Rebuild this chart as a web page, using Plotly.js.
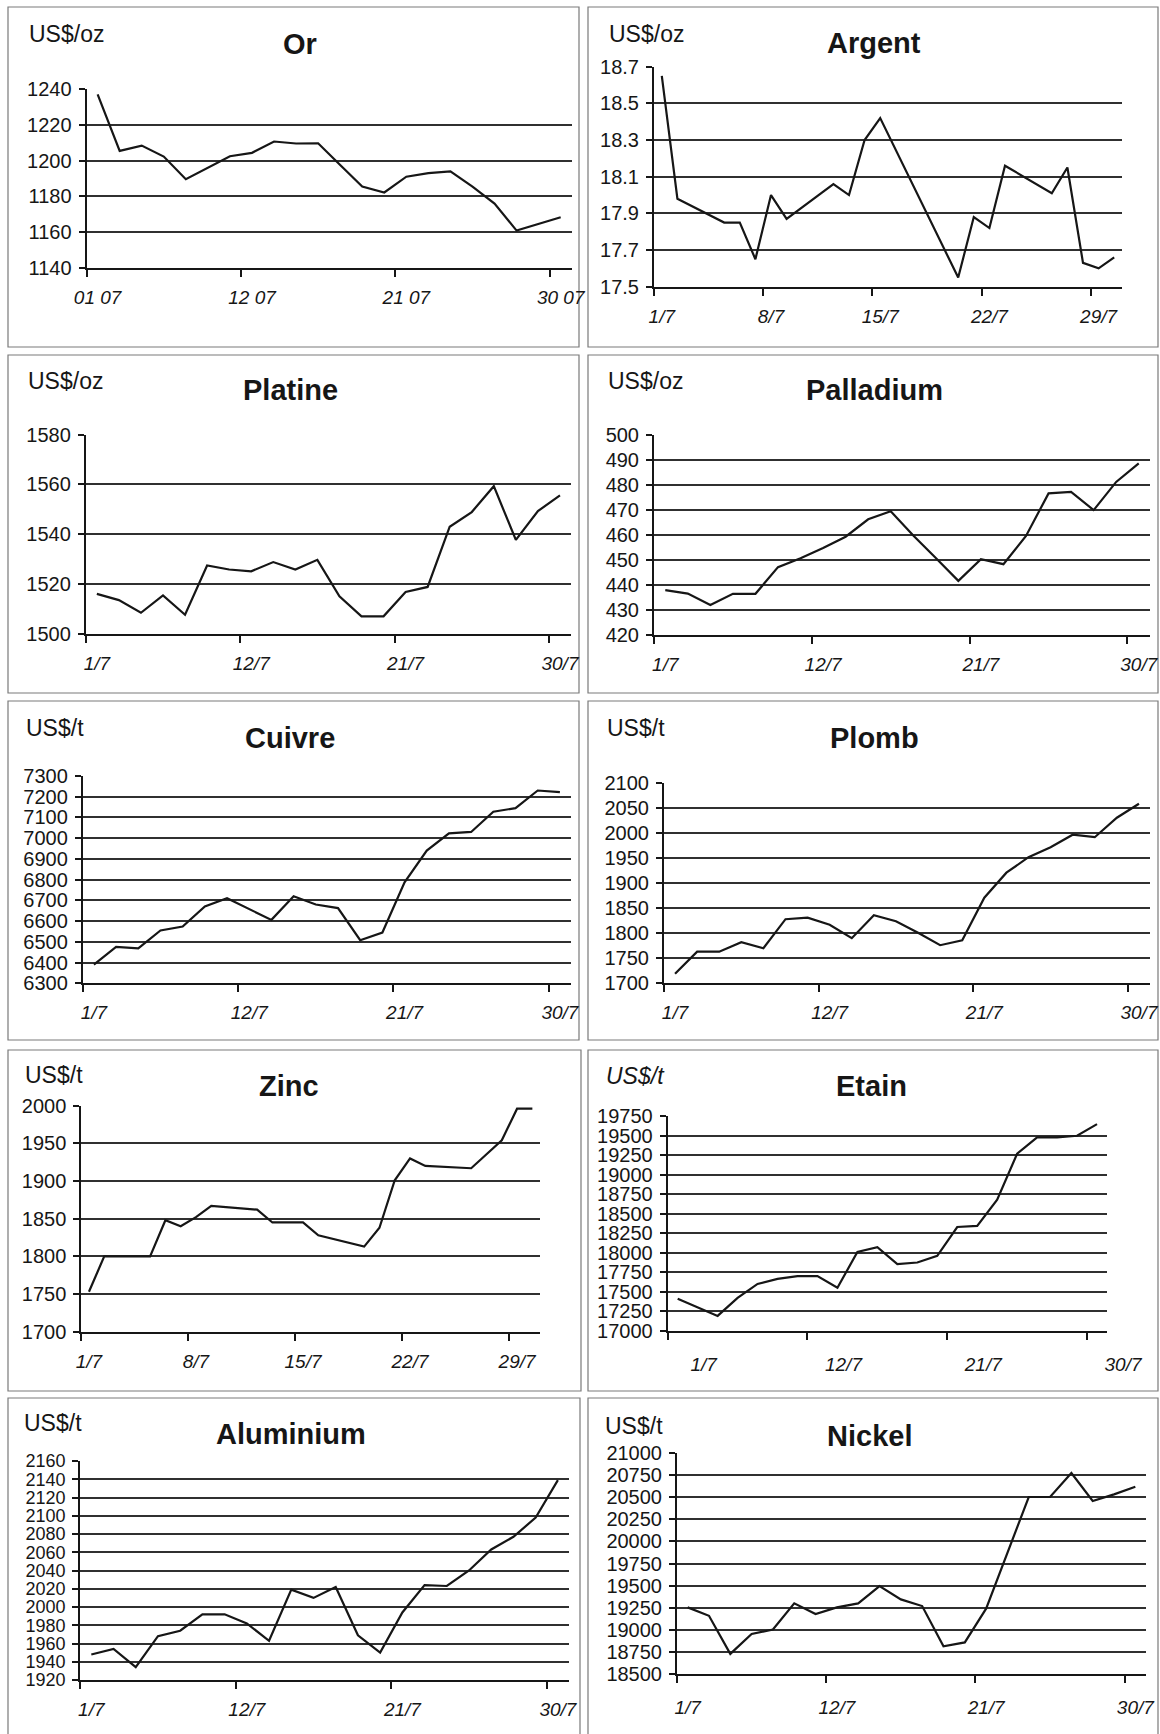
<!DOCTYPE html>
<html>
<head>
<meta charset="utf-8">
<script src="https://cdn.plot.ly/plotly-3.0.1.min.js"></script>
<style>
  html, body { margin: 0; padding: 0; background: #ffffff; }
  #chart { width: 1160px; height: 1734px; }
</style>
</head>
<body>
<div id="chart"></div>
<script>
// ---- Metals prices, July 2010 ----

// Trading days of the month (day of July)
const tradingDays = [1, 2, 5, 6, 7, 8, 9, 12, 13, 14, 15, 16, 19, 20, 21, 22, 23, 26, 27, 28, 29, 30];

// Axis labels
const dailyLabelDays = [1, 12, 21, 30];
const orTickText = ['01 07', '12 07', '21 07', '30 07'];
const dailyTickText = ['1/7', '12/7', '21/7', '30/7'];
const weeklyLabelDays = [1, 8, 15, 22, 29];
const weeklyTickText = ['1/7', '8/7', '15/7', '22/7', '29/7'];

// Or (US$/oz), one value per trading day
const orValues = [1236.8, 1205.4, 1208.3, 1202.2, 1189.6, 1196.2, 1202.4, 1204.3, 1210.6, 1209.5, 1209.6,
                  1197.5, 1185.5, 1182.2, 1191.0, 1193.0, 1194.0, 1185.5, 1176.0, 1161.0, 1164.7, 1168.4];
const orTicks = [1140, 1160, 1180, 1200, 1220, 1240];

// Argent (US$/oz), quoted days only
const argentDays = [1, 2, 5, 6, 7, 8, 9, 12, 13, 14, 15, 20, 21, 22, 23, 26, 27, 28, 29, 30];
const argentValues = [18.65, 17.98, 17.85, 17.85, 17.65, 18.00, 17.87, 18.06, 18.00, 18.30, 18.42,
                      17.55, 17.88, 17.82, 18.16, 18.01, 18.15, 17.63, 17.60, 17.66];
const argentTicks = [17.5, 17.7, 17.9, 18.1, 18.3, 18.5, 18.7];

// Platine (US$/oz)
const platineValues = [1516.0, 1513.5, 1508.4, 1515.4, 1507.6, 1527.4, 1525.8, 1525.1, 1528.8, 1525.8, 1529.7,
                       1515.0, 1507.0, 1507.0, 1516.8, 1518.8, 1543.0, 1548.9, 1559.3, 1537.7, 1549.3, 1555.6];
const platineTicks = [1500, 1520, 1540, 1560, 1580];

// Palladium (US$/oz)
const palladiumValues = [437.9, 436.5, 431.9, 436.4, 436.4, 447.1, 450.7, 454.8, 459.3, 466.3, 469.5,
                         459.8, 450.8, 441.6, 450.3, 448.3, 459.6, 476.7, 477.3, 470.0, 481.3, 488.7];
const palladiumTicks = [420, 430, 440, 450, 460, 470, 480, 490, 500];

// Cuivre (US$/t)
const cuivreValues = [6390, 6476, 6468, 6555, 6574, 6671, 6710, 6658, 6606, 6720, 6680,
                      6663, 6508, 6545, 6787, 6940, 7023, 7030, 7128, 7145, 7230, 7222];
const cuivreTicks = [6300, 6400, 6500, 6600, 6700, 6800, 6900, 7000, 7100, 7200, 7300];

// Plomb (US$/t)
const plombValues = [1718, 1762, 1762, 1781, 1769, 1827, 1830, 1816, 1789, 1835, 1823,
                     1800, 1775, 1785, 1870, 1920, 1951, 1971, 1996, 1991, 2030, 2058];
const plombTicks = [1700, 1750, 1800, 1850, 1900, 1950, 2000, 2050, 2100];

// Zinc (US$/t), by calendar day
const zincDays = [1, 2, 5, 6, 7, 8, 9, 12, 13, 14, 15, 16, 19, 20, 21, 22, 23, 26, 27, 28, 29, 30];
const zincValues = [1753, 1800, 1800, 1848, 1840, 1852, 1867, 1862, 1845, 1845, 1845,
                    1828, 1813, 1838, 1901, 1930, 1920, 1917, 1936, 1954, 1996, 1996];
const zincTicks = [1700, 1750, 1800, 1850, 1900, 1950, 2000];

// Etain (US$/t)
const etainValues = [17410, 17305, 17190, 17420, 17600, 17665, 17700, 17700, 17550, 18010, 18070,
                     17855, 17875, 17960, 18330, 18345, 18680, 19270, 19480, 19480, 19500, 19650];
const etainTicks = [17000, 17250, 17500, 17750, 18000, 18250, 18500, 18750, 19000, 19250, 19500, 19750];

// Aluminium (US$/t)
const aluminiumValues = [1948, 1954, 1934, 1968, 1974, 1992, 1992, 1982, 1963, 2019, 2010,
                         2022, 1969, 1950, 1994, 2024, 2023, 2040, 2063, 2077, 2098, 2139];
const aluminiumTicks = [1920, 1940, 1960, 1980, 2000, 2020, 2040, 2060, 2080, 2100, 2120, 2140, 2160];

// Nickel (US$/t)
const nickelValues = [19255, 19160, 18730, 18955, 19005, 19300, 19180, 19255, 19300, 19495, 19345,
                      19270, 18815, 18860, 19240, 19880, 20500, 20500, 20770, 20455, 20530, 20615];
const nickelTicks = [18500, 18750, 19000, 19250, 19500, 19750, 20000, 20250, 20500, 20750, 21000];

// ---- Page geometry (pixels) ----
const W = 1160, H = 1734;
const FONT = 'Liberation Sans, Arial, Helvetica, sans-serif';
const INK = '#161616';

// plot: [left, right, top, bottom]; frame: [left, right, top, bottom]
const panels = [
  { title: 'Or', unit: 'US$/oz', kind: 'daily', values: orValues, ticks: orTicks, labels: orTickText,
    plot: [86.6, 571.7, 88.7, 268.3], frame: [8, 579, 7, 347], titleAt: [300, 44], unitAt: [27, 34] },
  { title: 'Argent', unit: 'US$/oz', kind: 'weekly', days: argentDays, values: argentValues, ticks: argentTicks, decimals: 1,
    plot: [654, 1122, 66.7, 286.7], frame: [588, 1158, 7, 347], titleAt: [874, 43], unitAt: [607, 34] },
  { title: 'Platine', unit: 'US$/oz', kind: 'daily', values: platineValues, ticks: platineTicks, labels: dailyTickText,
    plot: [85.8, 571, 434.7, 633.7], frame: [8, 579, 355, 693], titleAt: [291, 390], unitAt: [26, 381] },
  { title: 'Palladium', unit: 'US$/oz', kind: 'daily', values: palladiumValues, ticks: palladiumTicks, labels: dailyTickText,
    plot: [654, 1150, 435.3, 634.7], frame: [588, 1158, 355, 693], titleAt: [874, 390], unitAt: [606, 381] },
  { title: 'Cuivre', unit: 'US$/t', kind: 'daily', values: cuivreValues, ticks: cuivreTicks, labels: dailyTickText,
    plot: [82.8, 571, 776, 983.3], frame: [8, 579, 701, 1040], titleAt: [290, 738], unitAt: [24, 728] },
  { title: 'Plomb', unit: 'US$/t', kind: 'daily', values: plombValues, ticks: plombTicks, labels: dailyTickText,
    plot: [664, 1150, 782.7, 982.7], frame: [588, 1158, 701, 1040], titleAt: [874, 738], unitAt: [605, 728] },
  { title: 'Zinc', unit: 'US$/t', kind: 'weekly', days: zincDays, values: zincValues, ticks: zincTicks,
    plot: [81.3, 540, 1105.7, 1331.7], frame: [8, 581, 1050, 1391], titleAt: [289, 1086], unitAt: [23, 1075] },
  { title: 'Etain', unit: 'US$/t', unitItalic: true, kind: 'daily', values: etainValues, ticks: etainTicks, labels: dailyTickText,
    plot: [667.7, 1107, 1116.3, 1330.7], frame: [588, 1158, 1050, 1391], titleAt: [872, 1086], unitAt: [604, 1076],
    labelShift: 26, labelDrop: 4 },
  { title: 'Aluminium', unit: 'US$/t', kind: 'daily', values: aluminiumValues, ticks: aluminiumTicks, labels: dailyTickText,
    plot: [80.2, 569, 1461, 1680], frame: [8, 580, 1398, 1760], titleAt: [291, 1434], unitAt: [22, 1423],
    tickSize: 18 },
  { title: 'Nickel', unit: 'US$/t', kind: 'daily', values: nickelValues, ticks: nickelTicks, labels: dailyTickText,
    plot: [677, 1146, 1452.7, 1674.3], frame: [588, 1158, 1398, 1760], titleAt: [869, 1436], unitAt: [603, 1426],
    labelDrop: 4 }
];

const px = v => v / W;
const py = v => 1 - v / H;

const traces = [];
const layout = {
  width: W, height: H,
  margin: { l: 0, r: 0, t: 0, b: 0 },
  paper_bgcolor: '#ffffff', plot_bgcolor: '#ffffff',
  showlegend: false,
  font: { family: FONT, color: INK },
  shapes: [], annotations: []
};

panels.forEach((p, i) => {
  const n = i + 1;
  const xa = 'xaxis' + (n === 1 ? '' : n);
  const ya = 'yaxis' + (n === 1 ? '' : n);
  const xr = 'x' + (n === 1 ? '' : n);
  const yr = 'y' + (n === 1 ? '' : n);

  let xs, range, labelVals, labelText;
  if (p.kind === 'daily') {
    // one category per trading day, marks at the middle of each category
    xs = p.values.map((v, k) => k);
    range = [-0.5, tradingDays.length - 0.5];
    labelVals = dailyLabelDays.map(d => tradingDays.indexOf(d));
    labelText = p.labels;
  } else {
    // calendar axis, marks at the middle of each day
    xs = p.days;
    range = [0.5, 30.5];
    labelVals = weeklyLabelDays;
    labelText = weeklyTickText;
  }
  // tick marks sit on the category / day boundaries
  const boundaryVals = labelVals.map(v => v - 0.5);

  traces.push({
    type: 'scatter', mode: 'lines',
    x: xs, y: p.values,
    xaxis: xr, yaxis: yr,
    line: { color: INK, width: 2.2 },
    hoverinfo: 'skip'
  });

  const [l, r, t, b] = p.plot;
  layout[xa] = {
    domain: [px(l), px(r)], anchor: yr,
    range: range, fixedrange: true,
    tickmode: 'array', tickvals: labelVals, ticktext: labelText,
    ticks: '', showgrid: false, zeroline: false,
    showline: true, linecolor: INK, linewidth: 2,
    tickfont: { family: FONT, size: 19, style: 'italic', color: INK },
    ticklabelstandoff: 11 + (p.labelDrop || 0),
    ticklabelshift: p.labelShift || 0,
    minor: { tickmode: 'array', tickvals: boundaryVals, ticks: 'outside', ticklen: 7, tickwidth: 2, tickcolor: INK, showgrid: false }
  };
  layout[ya] = {
    domain: [py(b), py(t)], anchor: xr,
    range: [p.ticks[0], p.ticks[p.ticks.length - 1]], fixedrange: true,
    tickmode: 'array', tickvals: p.ticks,
    ticktext: p.ticks.map(v => p.decimals ? v.toFixed(p.decimals) : String(v)),
    showgrid: true, gridcolor: '#303030', gridwidth: 2,
    zeroline: false,
    showline: true, linecolor: INK, linewidth: 2,
    ticks: 'outside', ticklen: 6, tickwidth: 2, tickcolor: INK,
    ticklabelstandoff: 3,
    tickfont: { family: FONT, size: p.tickSize || 20, color: INK }
  };

  // panel frame
  const [fl, fr, ft, fb] = p.frame;
  layout.shapes.push({
    type: 'rect', xref: 'paper', yref: 'paper',
    x0: px(fl), x1: px(fr), y0: py(fb), y1: py(ft),
    line: { color: '#7a7a7a', width: 1.2 }, fillcolor: 'rgba(0,0,0,0)', layer: 'below'
  });

  // panel title
  layout.annotations.push({
    xref: 'paper', yref: 'paper', x: px(p.titleAt[0]), y: py(p.titleAt[1]),
    xanchor: 'center', yanchor: 'middle', showarrow: false,
    text: p.title,
    font: { family: FONT, size: 29, weight: 'bold', color: INK }
  });

  // unit label
  layout.annotations.push({
    xref: 'paper', yref: 'paper', x: px(p.unitAt[0]), y: py(p.unitAt[1]),
    xanchor: 'left', yanchor: 'middle', showarrow: false,
    text: p.unit,
    font: { family: FONT, size: 23, color: INK, style: p.unitItalic ? 'italic' : 'normal' }
  });
});

Plotly.newPlot('chart', traces, layout, { staticPlot: true, displayModeBar: false });
</script>
</body>
</html>
